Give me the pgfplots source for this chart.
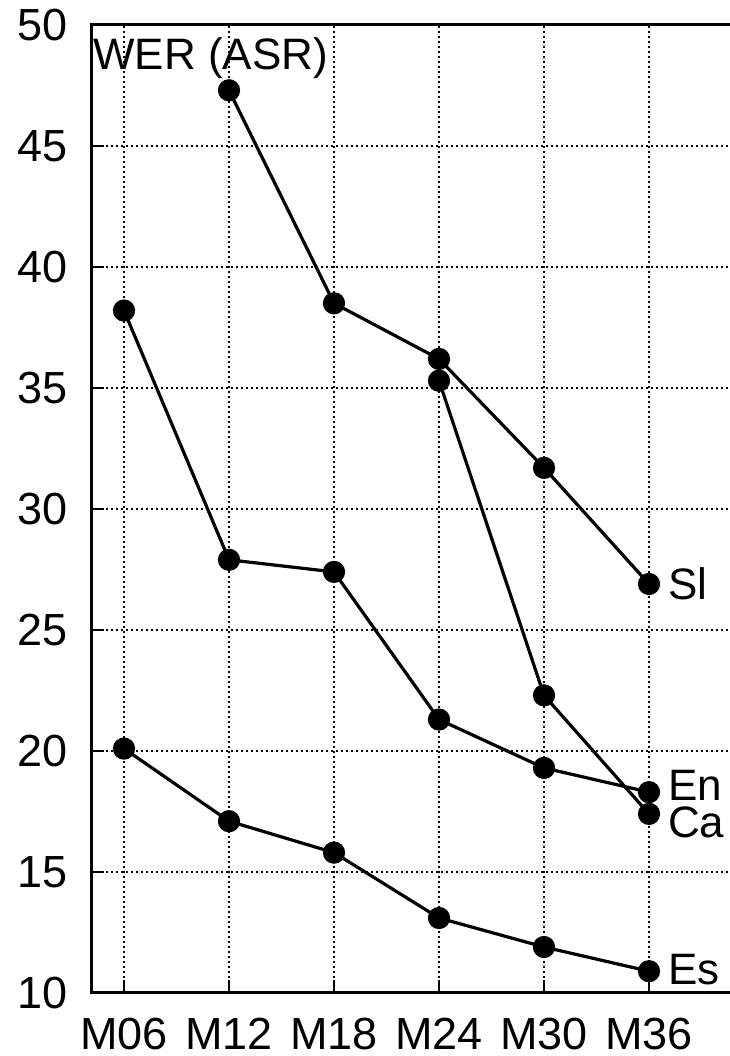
\documentclass[border=0pt]{standalone}
\usepackage{pgfplots}
\pgfplotsset{compat=1.18}
\usepackage{fontspec}
\setmainfont{Liberation Sans}
\tikzset{ser/.style={line width=3.2pt, black, mark=*, mark size=9.5pt, mark options={solid, fill=black, draw=black}}}
\begin{document}
\begin{tikzpicture}
\path[use as bounding box] (0,0) rectangle (729pt,1056pt);
\begin{axis}[
  at={(91pt,63pt)}, anchor=south west,
  scale only axis, width=642pt, height=968pt,
  xmin=0.6857, xmax=6.8, ymin=10, ymax=50,
  xtick={1,2,3,4,5,6},
  xticklabels={M06,M12,M18,M24,M30,M36},
  ytick={10,15,20,25,30,35,40,45,50},
  tick align=inside, xtick pos=bottom, ytick pos=left,
  major tick length=13pt,
  tick style={line width=2pt, black},
  axis line style={line width=3pt},
  grid=major,
  major grid style={line width=1.2pt, black, dash pattern=on 1.5pt off 3.5pt},
  /pgf/number format/assume math mode=true,
  ticklabel style={font=\fontsize{45}{45}\selectfont},
  yticklabel style={xshift=-20pt},
  xticklabel style={yshift=-22pt},
  clip=false,
]
\addplot[ser] coordinates {(2,47.3) (3,38.5) (4,36.2) (5,31.7) (6,26.9)};
\addplot[ser] coordinates {(4,35.3) (5,22.3) (6,17.4)};
\addplot[ser] coordinates {(1,38.2) (2,27.9) (3,27.4) (4,21.3) (5,19.3) (6,18.3)};
\addplot[ser] coordinates {(1,20.1) (2,17.1) (3,15.8) (4,13.1) (5,11.9) (6,10.9)};
\node[anchor=west, font=\fontsize{44}{44}\selectfont, inner sep=0pt] at ([xshift=19pt]axis cs:6,26.9) {Sl};
\node[anchor=west, font=\fontsize{44}{44}\selectfont, inner sep=0pt] at ([xshift=19pt, yshift=7pt]axis cs:6,18.3) {En};
\node[anchor=west, font=\fontsize{44}{44}\selectfont, inner sep=0pt] at ([xshift=19pt, yshift=-8pt]axis cs:6,17.4) {Ca};
\node[anchor=west, font=\fontsize{44}{44}\selectfont, inner sep=0pt] at ([xshift=19pt, yshift=2pt]axis cs:6,10.9) {Es};
\node[anchor=north west, font=\fontsize{44}{44}\selectfont, inner sep=0pt] at ([xshift=2pt, yshift=-12pt]rel axis cs:0,1) {WER (ASR)};
\end{axis}
\end{tikzpicture}
\end{document}
